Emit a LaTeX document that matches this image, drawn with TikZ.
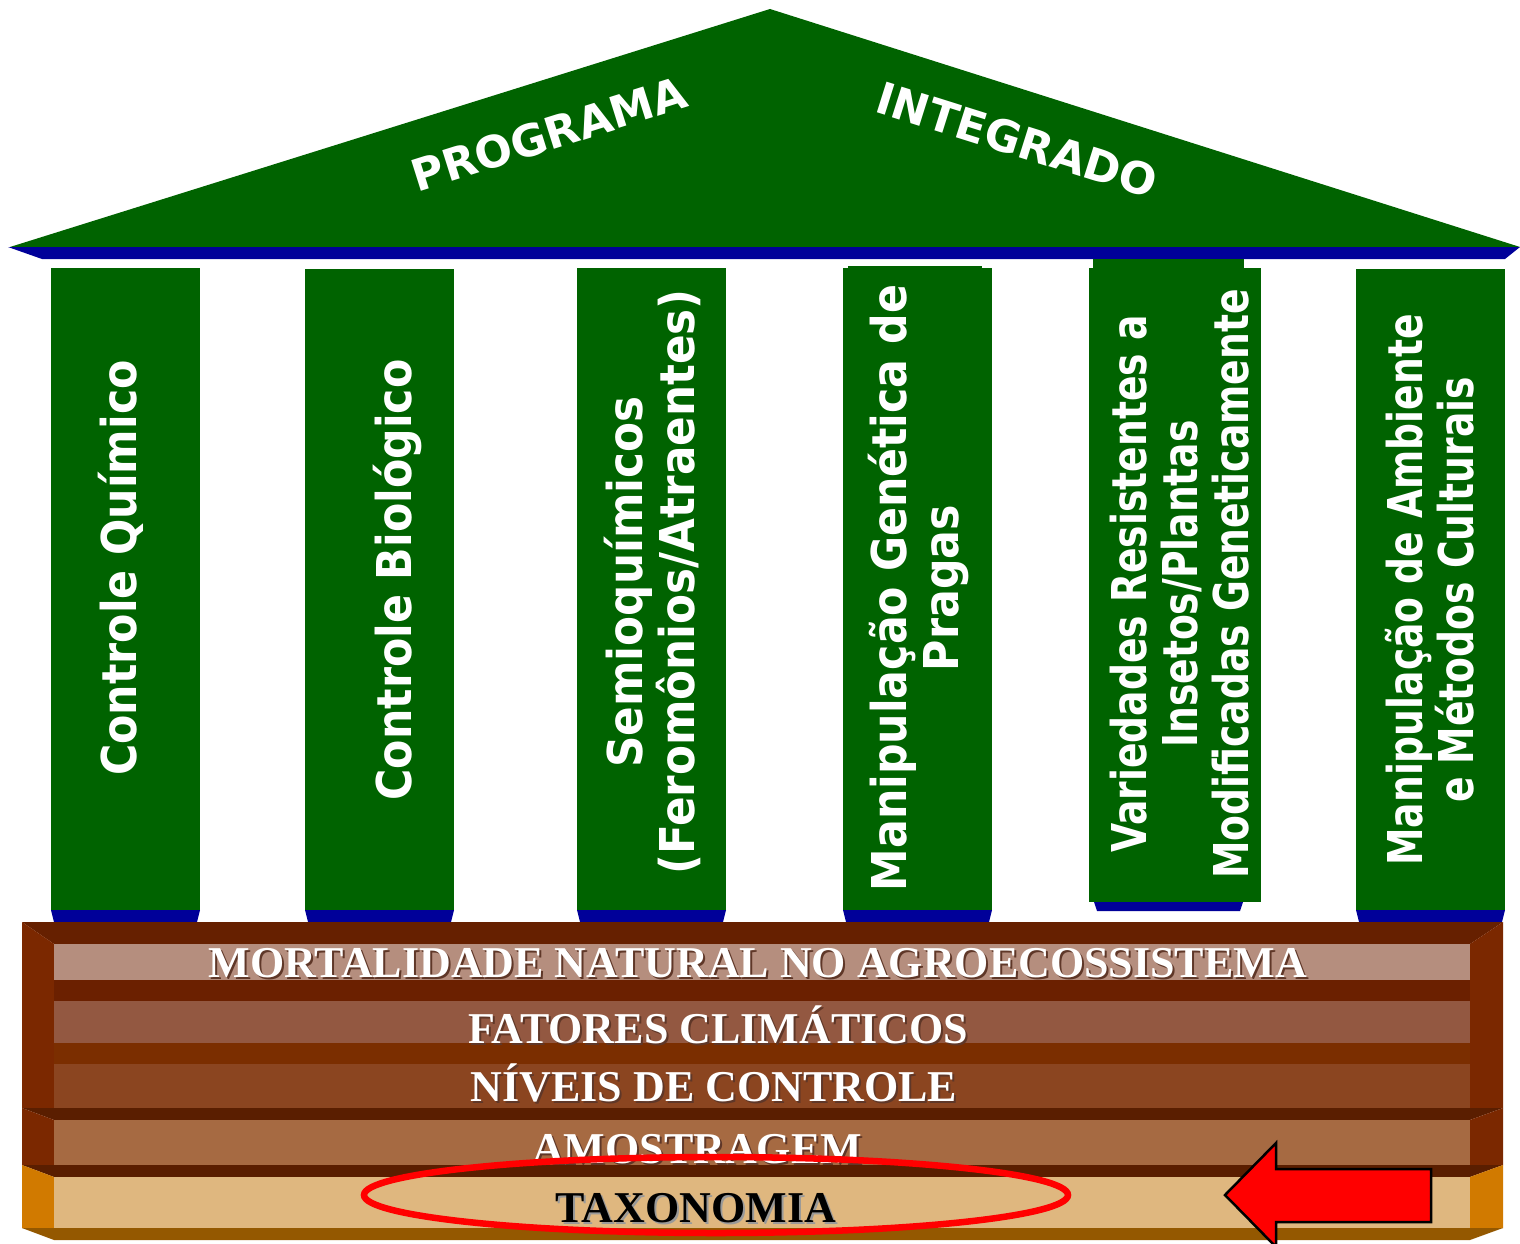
\documentclass[tikz,border=0pt]{standalone}
\usepackage{fontspec}
\setmainfont{Liberation Serif}
\newfontfamily\pillarwide[FakeStretch=0.91]{DejaVu Sans}
\newfontfamily\pillarmid[FakeStretch=0.89]{DejaVu Sans}
\newfontfamily\pillarnarrow[FakeStretch=0.785]{DejaVu Sans}
\newfontfamily\rooffont{DejaVu Sans}
\newfontfamily\bandfont{Liberation Serif}

\definecolor{roofgreen}{RGB}{0,99,0}
\definecolor{plinth}{RGB}{0,0,153}
\definecolor{topA}{RGB}{102,32,0}
\definecolor{sideA}{RGB}{123,40,0}
\definecolor{bandOne}{RGB}{181,142,126}
\definecolor{sepOne}{RGB}{107,32,0}
\definecolor{bandTwo}{RGB}{147,88,65}
\definecolor{sepTwo}{RGB}{123,46,0}
\definecolor{bandThree}{RGB}{139,69,32}
\definecolor{topB}{RGB}{90,30,0}
\definecolor{bandFour}{RGB}{166,106,66}
\definecolor{bandFive}{RGB}{223,183,127}
\definecolor{sideC}{RGB}{209,122,0}
\definecolor{bottomC}{RGB}{148,88,0}
\definecolor{textshade}{RGB}{95,55,40}

% text with a soft drop shadow, kept in one box
\newcommand\withshade[2]{\makebox[0pt][l]{\kern2pt\raisebox{-2pt}{\textcolor{#1}{#2}}}#2}

\tikzset{
  pillar/.style={fill=roofgreen},
  foot/.style={fill=plinth},
  pillartext/.style={text=white, rotate=90, align=center, inner sep=0pt},
  pwide/.style={pillartext, font=\pillarwide\bfseries\fontsize{48}{52}\selectfont},
  pmid/.style={pillartext, font=\pillarmid\bfseries\fontsize{48}{52}\selectfont},
  pnarrow/.style={pillartext, font=\pillarnarrow\bfseries\fontsize{48}{51}\selectfont},
  rooftext/.style={text=white, font=\rooffont\bfseries\fontsize{44}{46}\selectfont, inner sep=0pt},
  bandtext/.style={text=white, anchor=base, inner sep=0pt,
    font=\bandfont\bfseries\fontsize{44}{48}\selectfont},
}

\begin{document}
\begin{tikzpicture}[x=1pt,y=-1pt]
\useasboundingbox (0,0) rectangle (1520,1244);

% roof
\fill[roofgreen] (10,247) -- (770,9) -- (1520,247) -- cycle;
\fill[plinth] (8,247) -- (1520,247) -- (1505,259) -- (42,259) -- cycle;
\node[rooftext, rotate=17.5] (prog) at (549,134) {PROGRAMA};
\node[rooftext, rotate=-17.5] (integ) at (1017,140) {INTEGRADO};

% pillars
\fill[pillar] (51,268) rectangle (200,910);
\fill[foot] (51,910) -- (200,910) -- (197,922) -- (54,922) -- cycle;
\fill[pillar] (305,269) rectangle (454,910);
\fill[foot] (305,910) -- (454,910) -- (451,922) -- (308,922) -- cycle;
\fill[pillar] (577,268) rectangle (726,910);
\fill[foot] (577,910) -- (726,910) -- (723,922) -- (580,922) -- cycle;
\fill[pillar] (848,266) rectangle (982,269);
\fill[pillar] (843,268) rectangle (992,910);
\fill[foot] (843,910) -- (992,910) -- (989,922) -- (846,922) -- cycle;
\fill[pillar] (1093,259) rectangle (1244,269);
\fill[pillar] (1089,268) rectangle (1261,902);
\fill[foot] (1094,902) -- (1243,902) -- (1240,911) -- (1097,911) -- cycle;
\fill[pillar] (1356,269) rectangle (1505,910);
\fill[foot] (1356,910) -- (1505,910) -- (1502,922) -- (1359,922) -- cycle;

\node[pmid] (p1) at (121,568) {Controle Químico};
\node[pmid] (p2) at (397,580) {Controle Biológico};
\node[pwide] (p3) at (652,582) {Semioquímicos\\(Feromônios/Atraentes)};
\node[pmid] (p4) at (918,588) {Manipulação Genética de\\Pragas};
\node[pnarrow] (p5) at (1180,584) {Variedades Resistentes a\\Insetos/Plantas\\Modificadas Geneticamente};
\node[pnarrow] (p6) at (1430,590) {Manipulação de Ambiente\\e Métodos Culturais};

% base: upper block
\fill[topA] (22,922) -- (1503,922) -- (1470,944) -- (54,944) -- cycle;
\fill[sideA] (22,922) -- (54,944) -- (54,1108) -- (22,1108) -- cycle;
\fill[sideA] (1503,922) -- (1470,944) -- (1470,1108) -- (1503,1108) -- cycle;
\fill[bandOne] (54,944) rectangle (1470,980);
\fill[sepOne] (54,980) rectangle (1470,1001);
\fill[bandTwo] (54,1001) rectangle (1470,1043);
\fill[sepTwo] (54,1043) rectangle (1470,1064);
\fill[bandThree] (54,1064) rectangle (1470,1108);

\node[bandtext] (b1) at (758,977) {\withshade{textshade}{MORTALIDADE NATURAL NO AGROECOSSISTEMA}};
\node[bandtext] (b2) at (718,1043) {\withshade{textshade}{FATORES CLIMÁTICOS}};
\node[bandtext] (b3) at (714,1101) {\withshade{textshade}{NÍVEIS DE CONTROLE}};

% base: middle block
\fill[topB] (22,1108) -- (1503,1108) -- (1470,1120) -- (54,1120) -- cycle;
\fill[sideA] (22,1108) -- (54,1120) -- (54,1165) -- (22,1165) -- cycle;
\fill[sideA] (1503,1108) -- (1470,1120) -- (1470,1165) -- (1503,1165) -- cycle;
\fill[bandFour] (54,1120) rectangle (1470,1165);
\node[bandtext] (b4) at (697,1163) {\withshade{textshade}{AMOSTRAGEM}};

% base: lower block
\fill[topB] (22,1165) -- (1503,1165) -- (1470,1177) -- (54,1177) -- cycle;
\fill[sideC] (22,1165) -- (54,1177) -- (54,1228) -- (22,1228) -- cycle;
\fill[sideC] (1503,1165) -- (1470,1177) -- (1470,1228) -- (1503,1228) -- cycle;
\fill[bandFive] (54,1177) rectangle (1470,1228);
\fill[bottomC] (22,1228) -- (1503,1228) -- (1470,1240) -- (54,1240) -- cycle;
\node[bandtext, text=black] (b5) at (696,1222) {\withshade{black!40}{TAXONOMIA}};

% highlight
\draw[red, line width=6.5pt] (716,1195) ellipse [x radius=352, y radius=38];
\filldraw[fill=red, draw=black, line width=2.5pt, line join=miter]
  (1225,1195) -- (1276,1143) -- (1276,1169) -- (1431,1169) -- (1431,1222)
  -- (1276,1222) -- (1276,1247) -- cycle;
\end{tikzpicture}
\end{document}
